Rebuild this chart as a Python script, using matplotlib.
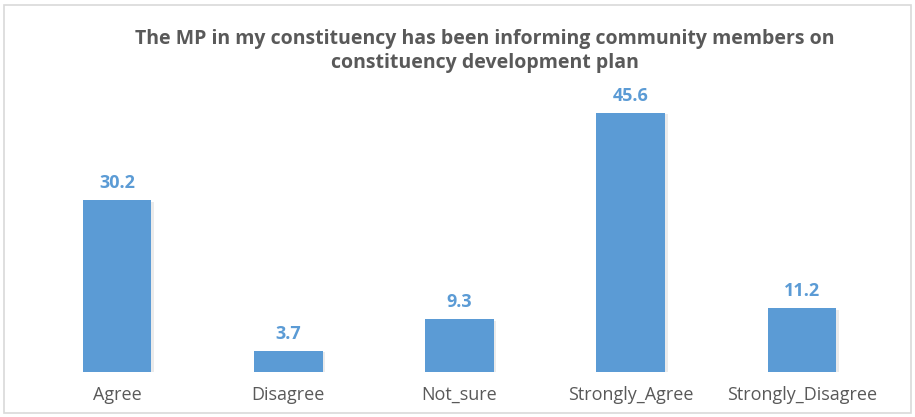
import matplotlib.pyplot as plt
import matplotlib.patheffects as pe
from matplotlib.patches import Rectangle
import numpy as np

categories = ["Agree", "Disagree", "Not_sure", "Strongly_Agree", "Strongly_Disagree"]
percent = [30.2, 3.7, 9.3, 45.6, 11.2]

title = ("The MP in my constituency has been informing community members on\n"
         "constituency development plan")

bar_color = "#5B9BD5"
text_gray = "#595959"

plt.rcParams["font.family"] = ["Open Sans", "DejaVu Sans"]

fig = plt.figure(figsize=(9.15, 4.17), dpi=100)
ax = fig.add_axes([0.0344, 0.108, 0.9355, 0.681])

x = np.arange(len(categories))
bars = ax.bar(x, percent, width=0.4, color=bar_color, zorder=2)
for b in bars:
    b.set_path_effects([
        pe.SimplePatchShadow(offset=(2, -1), shadow_rgbFace="#000000", alpha=0.08),
        pe.Normal(),
    ])

for xi, v in zip(x, percent):
    ax.annotate(f"{v:.1f}", (xi, v), xytext=(0, 6), textcoords="offset points",
                ha="center", va="bottom", color=bar_color, fontsize=13,
                fontweight="bold")

ax.set_xlim(-0.5, len(categories) - 0.5)
ax.set_ylim(0, 50)
ax.set_xticks(x)
ax.set_xticklabels(categories, fontsize=13, color=text_gray)
ax.tick_params(axis="x", length=0, pad=10)
ax.set_yticks([])
for s in ax.spines.values():
    s.set_visible(False)

fig.text(0.53, 0.878, title, ha="center", va="center", fontsize=14,
         fontweight="bold", color=text_gray, linespacing=1.25)

# light frame round the whole chart
fig.patches.append(Rectangle((0.004, 0.01), 0.992, 0.978, transform=fig.transFigure,
                             fill=False, edgecolor="#d9d9d9", linewidth=1.2))

fig.savefig("out.png", dpi=100)
